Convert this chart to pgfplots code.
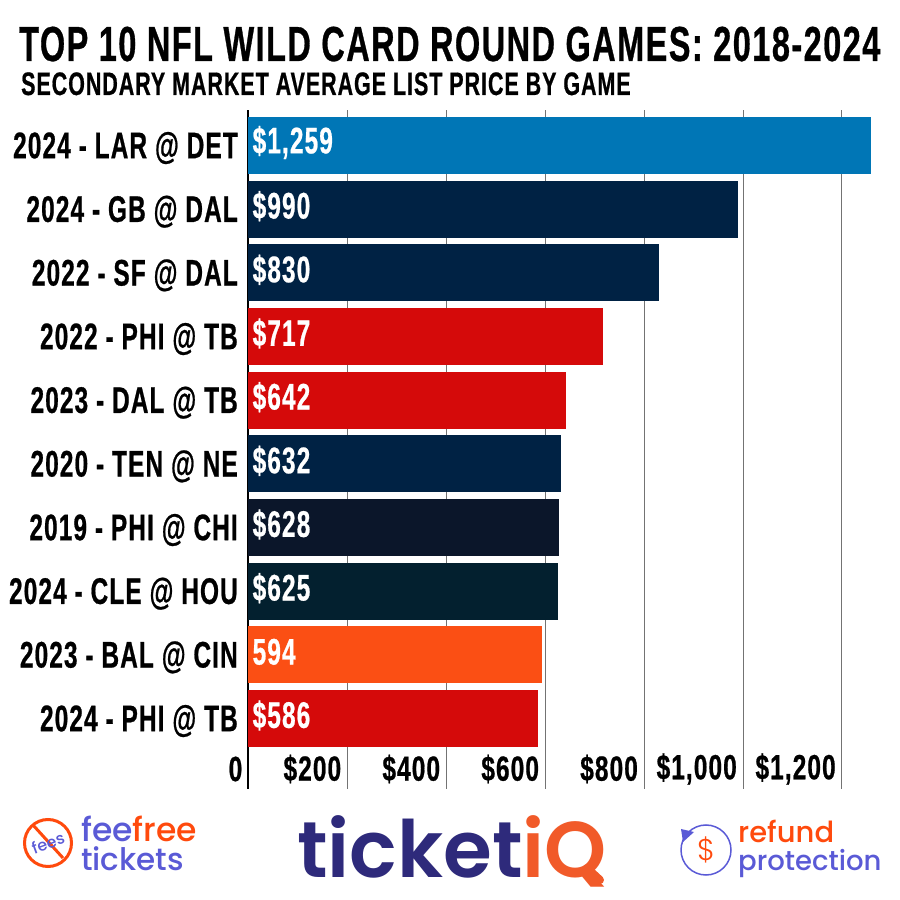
\documentclass[border=0pt]{standalone}
\usepackage{fontspec}
\usepackage{pgfplots}
\pgfplotsset{compat=1.18}
\setmainfont{Liberation Sans}
\newfontfamily\headfont{Liberation Sans Bold}[FakeStretch=0.66,LetterSpace=3,FakeBold=0.6]
\newfontfamily\tickfont{Liberation Sans Bold}[FakeStretch=0.7,LetterSpace=3,FakeBold=0.6]
\newfontfamily\popfont{Poppins Medium}
\newfontfamily\popsemi{Poppins SemiBold}
\newfontfamily\poplight{Poppins Light}

\definecolor{lions}{HTML}{0076B6}
\definecolor{navy}{HTML}{002244}
\definecolor{bucs}{HTML}{D50A0A}
\definecolor{bears}{HTML}{0B162A}
\definecolor{texans}{HTML}{03202F}
\definecolor{bengals}{HTML}{FB4F14}
\definecolor{tiqnavy}{HTML}{2E2A7B}
\definecolor{tiqorange}{HTML}{F15A29}
\definecolor{feeorange}{HTML}{FF4A0D}
\definecolor{feepurple}{HTML}{5A5AD6}

\begin{document}
\begin{tikzpicture}[x=1pt,y=1pt]
\path[use as bounding box] (0,0) rectangle (900,900);

\begin{axis}[
  at={(248.5pt,111pt)},
  anchor=south west,
  scale only axis,
  width=642.85pt, height=679pt,
  xmin=0, xmax=1300,
  ymin=-0.107, ymax=10.558,
  axis lines=left,
  axis line style={-},
  x axis line style={draw=none},
  y axis line style={black, line width=2pt},
  major tick length=0pt,
  xmajorgrids,
  grid style={draw=black!55, line width=1pt},
  xtick={0,200,400,600,800,1000,1200},
  xticklabels={0,\$200,\$400,\$600,\$800,\$1{,}000,\$1{,}200},
  xticklabel style={font=\tickfont\fontsize{35}{35}\selectfont, anchor=east, inner sep=0pt, xshift=-6pt, yshift=20pt},
  ytick={1,...,10},
  yticklabels={2024 - PHI @ TB,2023 - BAL @ CIN,2024 - CLE @ HOU,2019 - PHI @ CHI,2020 - TEN @ NE,2023 - DAL @ TB,2022 - PHI @ TB,2022 - SF @ DAL,2024 - GB @ DAL,2024 - LAR @ DET},
  yticklabel style={font=\headfont\fontsize{37}{37}\selectfont, anchor=east, inner sep=0pt, xshift=-10.5pt, yshift=-2.5pt},
  xbar, bar shift=0pt, bar width=57pt,
  clip=false,
]
\addplot[fill=lions, draw=none] coordinates {(1259,10)};
\addplot[fill=navy, draw=none] coordinates {(990,9)};
\addplot[fill=navy, draw=none] coordinates {(830,8)};
\addplot[fill=bucs, draw=none] coordinates {(717,7)};
\addplot[fill=bucs, draw=none] coordinates {(642,6)};
\addplot[fill=navy, draw=none] coordinates {(632,5)};
\addplot[fill=bears, draw=none] coordinates {(628,4)};
\addplot[fill=texans, draw=none] coordinates {(625,3)};
\addplot[fill=bengals, draw=none] coordinates {(594,2)};
\addplot[fill=bucs, draw=none] coordinates {(586,1)};

\foreach \yy/\lab in {10/\$1{,}259,9/\$990,8/\$830,7/\$717,6/\$642,5/\$632,4/\$628,3/\$625,2/594,1/\$586}{
  \edef\temp{\noexpand\node[anchor=west, inner sep=0pt, white, yshift=3pt, font=\noexpand\headfont\noexpand\fontsize{37}{37}\noexpand\selectfont] at (axis cs:8,\yy) {\unexpanded\expandafter{\lab}};}
  \temp
}
\end{axis}

% titles
\node[anchor=base west, inner sep=0pt, font=\headfont\fontsize{49.2}{49.2}\selectfont] at (19,839) {TOP 10 NFL WILD CARD ROUND GAMES: 2018-2024};
\node[anchor=base west, inner sep=0pt, font=\headfont\fontsize{32.5}{32.5}\selectfont] at (21,805) {SECONDARY MARKET AVERAGE LIST PRICE BY GAME};

% fee free logo
\draw[feeorange, line width=3pt] (48,57) circle (23.5);
\draw[feeorange, line width=3pt] (33,75) -- (63,42);
\node[rotate=20, text=feepurple, inner sep=0pt, font=\popfont\fontsize{16}{16}\selectfont] at (48,57) {fees};
\node[anchor=base west, inner sep=0pt, font=\popfont\fontsize{33}{33}\selectfont] at (81,58) {\textcolor{feepurple}{fee}\textcolor{feeorange}{free}};
\node[anchor=base west, inner sep=0pt, text=feepurple, font=\popfont\fontsize{31}{31}\selectfont] at (81,29) {tickets};

% ticketiQ logo
\node[anchor=base west, inner sep=0pt, font=\popsemi\fontsize{79}{79}\selectfont] at (297,23) {\textcolor{tiqnavy}{ticket}\textcolor{tiqorange}{iQ}};
\draw[tiqorange, line width=8pt, line cap=round] (587,32) -- (600,20);

% refund protection logo
\draw[feepurple, line width=1.5pt] (706,50) circle (25);
\fill[feepurple] (683,58) -- (694,68) -- (681,71) -- cycle;
\node[text=feeorange, inner sep=0pt, font=\poplight\fontsize{30}{30}\selectfont] at (706,50) {\$};
\node[anchor=base west, inner sep=0pt, text=feeorange, font=\popfont\fontsize{29}{29}\selectfont] at (738,57) {refund};
\node[anchor=base west, inner sep=0pt, text=feepurple, font=\popfont\fontsize{27.5}{27.5}\selectfont] at (738,29) {protection};
\end{tikzpicture}
\end{document}
